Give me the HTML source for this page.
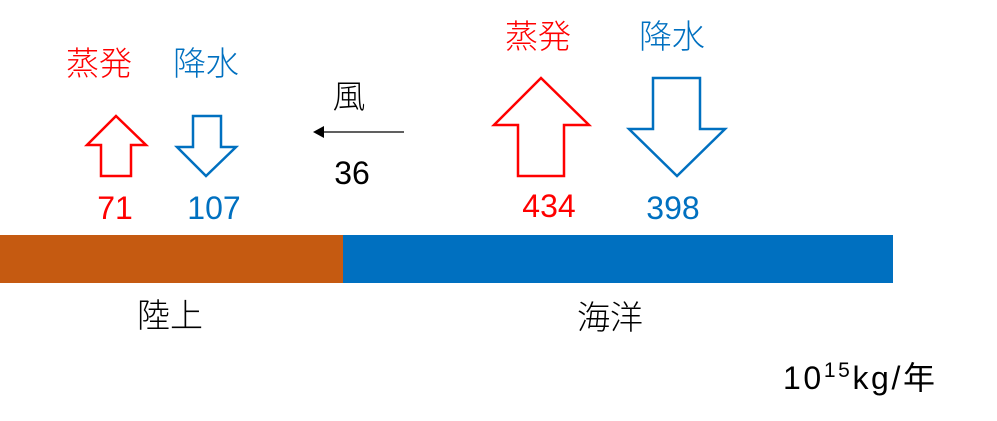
<!DOCTYPE html>
<html><head><meta charset="utf-8"><style>
html,body{margin:0;padding:0;background:#fff;}
svg{display:block;}
text{font-family:"Liberation Sans","Noto Sans CJK JP",sans-serif;}
</style></head><body>
<svg width="997" height="421" viewBox="0 0 997 421" xmlns="http://www.w3.org/2000/svg">
<rect x="0" y="235" width="343" height="48" fill="#C55A11"/>
<rect x="343" y="235" width="550" height="48" fill="#0070C0"/>
<g fill="none" stroke-width="2.5">
<polygon points="116,116 146,145 131,145 131,176 101,176 101,145 87,145" stroke="#FF0000"/>
<polygon points="193,116 221,116 221,147 236,147 206,176 177,147 193,147" stroke="#0070C0"/>
<polygon points="541,78 589,125 564,125 564,176 518,176 518,125 494,125" stroke="#FF0000"/>
<polygon points="653,78 700,78 700,129 725,129 677,176 629,129 653,129" stroke="#0070C0"/>
</g>
<line x1="404" y1="132" x2="322" y2="132" stroke="#000" stroke-width="1.3"/>
<polygon points="313,132 324,126 324,138" fill="#000"/>
<g font-size="33" font-weight="300">
<text x="99" y="75" fill="#FF0000" text-anchor="middle">蒸発</text>
<text x="206" y="75" fill="#0070C0" text-anchor="middle">降水</text>
<text x="538" y="48" fill="#FF0000" text-anchor="middle">蒸発</text>
<text x="672" y="48" fill="#0070C0" text-anchor="middle">降水</text>
<text x="349" y="108" fill="#000" text-anchor="middle">風</text>
<text x="170" y="327" fill="#000" text-anchor="middle">陸上</text>
<text x="610" y="329" fill="#000" text-anchor="middle">海洋</text>
</g>
<g font-size="32">
<text x="352" y="184" fill="#000" text-anchor="middle">36</text>
<text x="115" y="219" fill="#FF0000" text-anchor="middle">71</text>
<text x="214" y="219" fill="#0070C0" text-anchor="middle">107</text>
<text x="549" y="217" fill="#FF0000" text-anchor="middle">434</text>
<text x="673" y="219" fill="#0070C0" text-anchor="middle">398</text>
<text x="783" y="389" fill="#000" textLength="152">10<tspan font-size="21" dy="-12">15</tspan><tspan dy="12">kg/年</tspan></text>
</g>
</svg>
</body></html>
